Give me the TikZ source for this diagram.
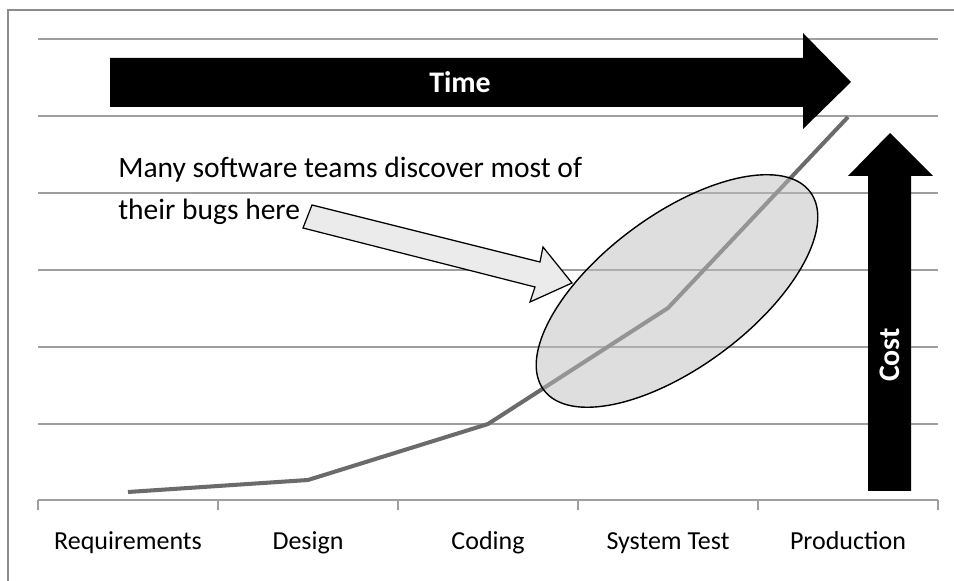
\documentclass[tikz,border=0pt]{standalone}
\usepackage{fontspec}
\setmainfont{Carlito}
\begin{document}
\begin{tikzpicture}[x=0.02cm,y=0.02cm,
  grid line/.style={draw=black!38,line width=0.9pt},
  cost line/.style={draw=black!58,line width=2.3pt,line join=round},
  blockarrow/.style={fill=black},
  callout/.style={draw=black,fill=black!8,line width=0.7pt,line join=miter},
  phase/.style={font=\fontsize{14.8}{16}\selectfont,anchor=base}]
 \useasboundingbox (0,0) rectangle (954,581);
 % frame
 \draw[black!45,line width=1.4pt] (8,0) -- (8,571) -- (954,571);
 % horizontal grid and axis
 \foreach \y in {157,234,311,388,465,542}
  \draw[grid line] (38,\y) -- (938,\y);
 \draw[grid line] (38,81) -- (938,81);
 \foreach \x in {38,218,...,938}
  \draw[grid line] (\x,81) -- (\x,71);
 % phases
 \foreach \x/\n/\t in {128/req/Requirements,308/des/Design,488/cod/Coding,
   668/sys/System Test,848/prod/Production}
  \node[phase] (\n) at (\x,31) {\t};
 % cost curve
 \coordinate (p1) at (128,89);
 \coordinate (p2) at (308,101);
 \coordinate (p3) at (488,157);
 \coordinate (p4) at (668,273);
 \coordinate (p5) at (848,464);
 \draw[cost line] (p1) -- (p2) -- (p3) -- (p4) -- (p5);
 % region where bugs get found
 \fill[black!26,fill opacity=0.5] (677,290) ellipse[x radius=166,y radius=76,rotate=36.6];
 \draw[line width=0.8pt] (677,290) ellipse[x radius=166,y radius=76,rotate=36.6];
 % time arrow
 \path[blockarrow] (110,474) -- (803,474) -- (803,452) -- (851,499)
   -- (803,548) -- (803,523) -- (110,523) -- cycle;
 \node[text=white,font=\bfseries\fontsize{17}{20}\selectfont] (time) at (460,499) {Time};
 % cost arrow
 \path[blockarrow] (868,90) -- (868,405) -- (848,405) -- (890,448)
   -- (933,405) -- (911,405) -- (911,90) -- cycle;
 \node[text=white,font=\bfseries\fontsize{17}{20}\selectfont,rotate=90] (cost) at (890,226) {Cost};
 % note and its pointer
 \node[anchor=base west,align=left,font=\fontsize{16.8}{24.4}\selectfont,inner sep=0pt] (note)
   at (118,361) {Many software teams discover most of\\their bugs here};
 \path[callout] (312,376) -- (540,319) -- (543,334) -- (572,298) -- (530,279)
   -- (535,294) -- (303,353) -- cycle;
\end{tikzpicture}
\end{document}
